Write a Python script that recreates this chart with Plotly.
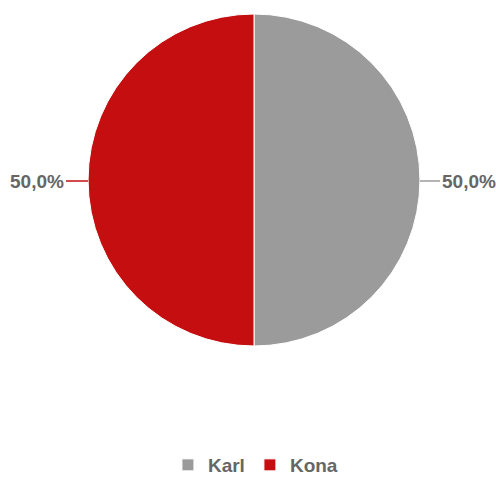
import plotly.graph_objects as go

labels = ["Karl", "Kona"]
values = [1, 1]
colors = ["#9b9b9b", "#c40e10"]

total = sum(values)
pct = [f"{v / total * 100:.1f}".replace(".", ",") + "%" for v in values]

W, H = 496, 486
cx, cy, r = 254, 180, 166
FONT = "Liberation Sans, Arial, sans-serif"

fig = go.Figure(go.Pie(
    labels=labels, values=values, sort=False, direction="clockwise",
    marker=dict(colors=colors, line=dict(color="white", width=1)),
    textinfo="none", hoverinfo="label+percent",
    domain=dict(x=[(cx - r) / W, (cx + r) / W], y=[(H - cy - r) / H, (H - cy + r) / H]),
))

# labels with leader lines: right (Karl) and left (Kona)
fig.add_annotation(x=(cx + r) / W, y=(H - cy - 1) / H, xref="paper", yref="paper",
                   text=pct[0], showarrow=True, arrowhead=0, arrowwidth=1.5,
                   arrowcolor=colors[0], ax=20, ay=0, xanchor="left",
                   font=dict(size=19, color="#666666", family=FONT))
fig.add_annotation(x=(cx - r) / W, y=(H - cy - 1) / H, xref="paper", yref="paper",
                   text=pct[1], showarrow=True, arrowhead=0, arrowwidth=1.5,
                   arrowcolor=colors[1], ax=-22, ay=0, xanchor="right",
                   font=dict(size=19, color="#666666", family=FONT))

fig.update_layout(
    width=W, height=H, margin=dict(l=0, r=0, t=0, b=0, autoexpand=False),
    paper_bgcolor="white", plot_bgcolor="white",
    font=dict(family=FONT, color="#666666"),
    showlegend=True,
    legend=dict(orientation="h", x=0.515, xanchor="center", y=2 / H, yanchor="bottom",
                font=dict(size=19, color="#666666", family=FONT, weight="bold"),
                itemwidth=30),
)
fig.update_annotations(font_weight="bold")

fig.write_html("out.html", config={"displayModeBar": False},
               post_script="document.body.style.margin='0';document.body.style.overflow='hidden';")
